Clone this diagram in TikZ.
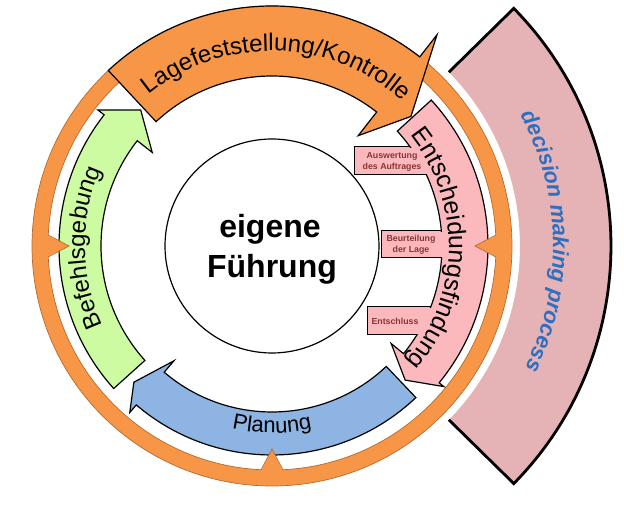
\documentclass[tikz,border=0pt]{standalone}
\usepackage{fontspec}
\setmainfont{Liberation Sans}
\usetikzlibrary{decorations.text}
\definecolor{ringor}{HTML}{F79646}
\definecolor{ringedge}{HTML}{B8692E}
\definecolor{grF}{HTML}{CCFBA2}
\definecolor{blF}{HTML}{8EB4E3}
\definecolor{pkF}{HTML}{FBB9BE}
\definecolor{decF}{HTML}{E5B3B6}
\definecolor{decblue}{HTML}{2F6FC0}
\definecolor{tabred}{HTML}{8A3434}
\newcommand\lagefont{\fontsize{24}{24}\selectfont}
\newcommand\befont{\fontsize{24}{24}\selectfont}
\newcommand\entfont{\fontsize{25}{25}\selectfont}
\newcommand\planfont{\fontsize{22}{22}\selectfont}
\newcommand\decfont{\fontsize{22}{22}\selectfont\bfseries\itshape\color{decblue}}
\newcommand\eigfont{\fontsize{32}{40}\selectfont\bfseries}
\newcommand\tabfont{\fontsize{8.8}{11}\selectfont\bfseries}
\begin{document}
\begin{tikzpicture}[x=1pt,y=1pt,
  arrowshape/.style={draw=black, line width=1.2pt, line join=miter},
  tabbox/.style={fill=pkF, draw=black, line width=1pt},
  tablabel/.style={font=\tabfont, text=tabred, align=center, inner sep=0pt},
  tri/.style={fill=ringor},
  triedge/.style={draw=ringedge, line width=0.7pt}]
\useasboundingbox (-272,-264) rectangle (352,246);

% decision making process sector
\path[fill=decF] (44.5:248pt) -- (44.5:339pt) arc[start angle=44.5, end angle=-44.5, radius=339pt] -- (-44.5:248pt) arc[start angle=-44.5, end angle=44.5, radius=248pt] -- cycle;
\draw[line width=2.8pt, line join=miter] (44.5:248pt) -- (44.5:339pt) arc[start angle=44.5, end angle=-44.5, radius=339pt] -- (-44.5:248pt);

% orange ring
\path[fill=ringor, draw=ringedge, line width=0.7pt, even odd rule] (0,0) circle (240pt) (0,0) circle (224pt);

% inner circle
\node[circle, draw=black, line width=1.2pt, fill=white, minimum size=214pt, inner sep=0pt] (core) at (0,0) {};
\node[font=\eigfont, anchor=base] (eig) at (-2,8) {eigene};
\node[font=\eigfont, anchor=base] (fuehr) at (0,-32) {Führung};

% green arrow (Befehlsgebung)
\path[arrowshape, fill=grF] (222:213pt) arc[start angle=222, end angle=142, radius=213pt] -- (142:221pt) -- (134:189pt) -- (142:152pt) -- (142:171pt) arc[start angle=142, end angle=222, radius=171pt] -- cycle;

% blue arrow (Planung)
\path[arrowshape, fill=blF] (-46.5:209pt) arc[start angle=-46.5, end angle=-130.5, radius=209pt] -- (-130.5:219pt) -- (-135.4:194pt) -- (-130.5:151pt) -- (-130.5:166pt) arc[start angle=-130.5, end angle=-46.5, radius=166pt] -- cycle;

% pink tabs
\path[tabbox] (82,71) rectangle (175,99);
\path[tabbox] (109,-12) rectangle (185,15);
\path[tabbox] (95,-89) rectangle (175,-61);

% pink arrow (Entscheidungsfindung)
\path[arrowshape, fill=pkF] (42.5:216pt) arc[start angle=42.5, end angle=-39.3, radius=216pt] -- (-39.3:222pt) -- (-45.2:189pt) -- (-39.3:154pt) -- (-39.3:170pt) arc[start angle=-39.3, end angle=42.5, radius=170pt] -- cycle;

% merge tabs into band
\path[fill=pkF] (82.7,71.7) rectangle (160,98.3);
\path[fill=pkF] (109.7,-11.3) rectangle (176,14.3);
\path[fill=pkF] (95.7,-88.3) rectangle (162,-61.7);

% orange arrow (Lagefeststellung/Kontrolle)
\path[arrowshape, fill=ringor] (133:240pt) arc[start angle=133, end angle=52, radius=240pt] -- (52:268pt) -- (43:190pt) -- (52:140pt) -- (52:170pt) arc[start angle=52, end angle=133, radius=170pt] -- cycle;

% inward triangles on the ring
\foreach \a in {180,270,360}{
  \path[tri] (\a-2.8:225.5pt) -- (\a:203pt) -- (\a+2.8:225.5pt) -- cycle;
  \draw[triedge] (\a-2.8:224pt) -- (\a:203pt) -- (\a+2.8:224pt);
}

% tab labels
\node[tablabel] (t1) at (120,84) {Auswertung\\des Auftrages};
\node[tablabel] (t2) at (139,1) {Beurteilung\\der Lage};
\node[tablabel] (t3) at (123,-75) {Entschluss};

% texts along arcs
\path[decorate, decoration={text along path, text={|\lagefont|Lagefeststellung/Kontrolle}, text align=center}]
  (150:195pt) arc[start angle=150, end angle=27, radius=195pt];
\path[decorate, decoration={text along path, text={|\befont|Befehlsgebung}, text align=center}]
  (240:187pt) arc[start angle=240, end angle=121, radius=187pt];
\path[decorate, decoration={text along path, text={|\entfont|Entscheidungsfindung}, text align=center}]
  (59:177pt) arc[start angle=59, end angle=-61, radius=177pt];
\path[decorate, decoration={text along path, text={|\planfont|Planung}, text align=center}]
  (230:187pt) arc[start angle=230, end angle=310, radius=187pt];
\path[decorate, decoration={text along path, text={|\decfont|decision making process}, text align=center}]
  (60:281pt) arc[start angle=60, end angle=-58, radius=281pt];
\end{tikzpicture}
\end{document}
